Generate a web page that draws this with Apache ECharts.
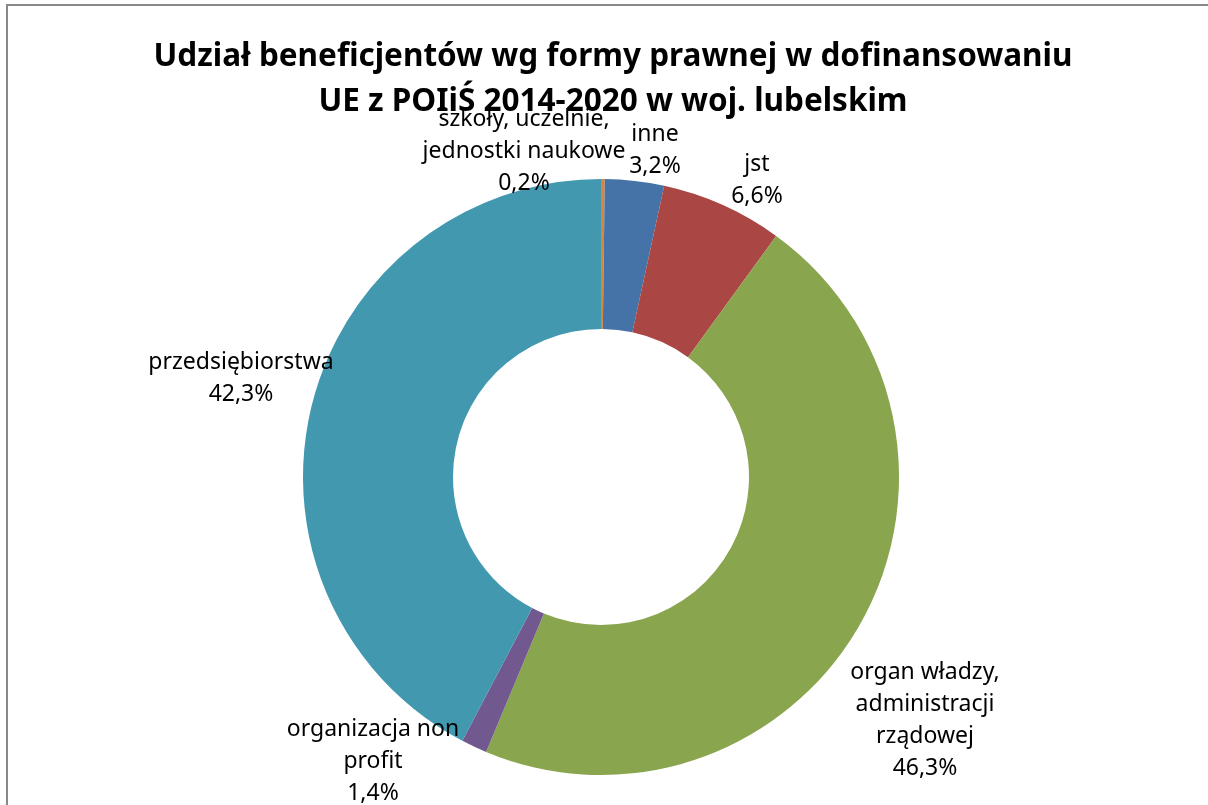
<!DOCTYPE html>
<html>
<head>
<meta charset="utf-8">
<script src="https://cdn.jsdelivr.net/npm/echarts@6/dist/echarts.min.js"></script>
<style>
  html, body { margin: 0; padding: 0; background: #fff; }
  #chart { width: 1208px; height: 805px; }
</style>
</head>
<body>
<div id="chart"></div>
<script>
// dane z wykresu (udział w %)
const categories = [
  'szkoły, uczelnie,\njednostki naukowe',
  'inne',
  'jst',
  'organ władzy,\nadministracji\nrządowej',
  'organizacja non\nprofit',
  'przedsiębiorstwa'
];
const shares = [0.2, 3.2, 6.6, 46.3, 1.4, 42.3];
const colors = ['#DB843D', '#4572A7', '#AA4643', '#89A54E', '#71588F', '#4198AF'];

// where Excel put the labels (centre of text block)
const labelSpots = [
  [524, 151], [655, 150], [757, 180], [925, 720], [373, 761], [241, 378]
];

const chart = echarts.init(document.getElementById('chart'));
chart.setOption({
  animation: false,
  title: {
    text: 'Udział beneficjentów wg formy prawnej w dofinansowaniu\nUE z POIiŚ 2014-2020 w woj. lubelskim',
    left: 608,
    top: 30,
    textAlign: 'center',
    textStyle: {
      fontFamily: 'Noto Sans',
      fontSize: 31.5,
      fontWeight: 'bold',
      color: '#000',
      lineHeight: 45
    }
  },
  graphic: [{
    type: 'polyline',
    shape: { points: [[7, 805], [7, 5], [1208, 5]] },
    style: { stroke: '#888', lineWidth: 2, fill: null },
    z: -1
  }],
  series: [{
    type: 'pie',
    center: [601, 477],
    radius: [148, 298],
    startAngle: 90,
    clockwise: true,
    avoidLabelOverlap: false,
    itemStyle: { borderWidth: 0 },
    emphasis: { disabled: true },
    label: {
      show: true,
      position: 'outside',
      fontFamily: 'Noto Sans',
      fontSize: 23,
      lineHeight: 32,
      color: '#000',
      align: 'center',
      formatter: p => p.name + '\n' + p.value.toFixed(1).replace('.', ',') + '%'
    },
    labelLine: { show: false },
    labelLayout: p => ({
      x: labelSpots[p.dataIndex][0],
      y: labelSpots[p.dataIndex][1],
      align: 'center',
      verticalAlign: 'middle'
    }),
    data: categories.map((c, i) => ({
      name: c,
      value: shares[i],
      itemStyle: { color: colors[i] }
    }))
  }]
});
</script>
</body>
</html>
